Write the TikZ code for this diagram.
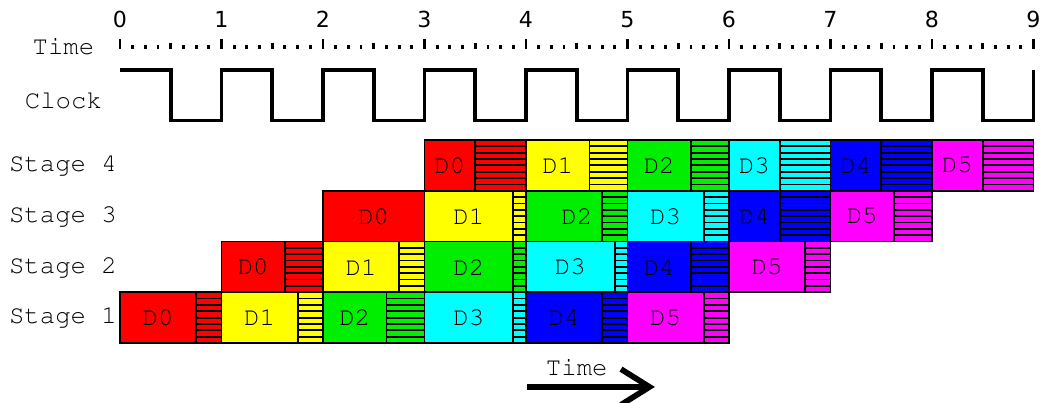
\documentclass[tikz,border=0pt]{standalone}
\usepackage[T1]{fontenc}
\usepackage{fontspec}
\newfontfamily\numfont{DejaVu Sans}
\newcommand\courfont{\fontencoding{T1}\fontfamily{pcr}\selectfont}
\usetikzlibrary{arrows.meta}

\definecolor{pred}{RGB}{255,0,0}
\definecolor{pyellow}{RGB}{255,255,0}
\definecolor{pgreen}{RGB}{0,238,0}
\definecolor{pcyan}{RGB}{0,255,255}
\definecolor{pblue}{RGB}{0,0,255}
\definecolor{pmagenta}{RGB}{255,0,255}

\tikzset{
  txt/.style={font=\courfont\fontsize{7.2}{8}\selectfont, inner sep=0pt},
  num/.style={font=\numfont\fontsize{6.2}{7}\selectfont, inner sep=0pt},
  tick/.style={line width=0.8pt},
  grid/.style={line width=0.5pt}
}

\begin{document}
\begin{tikzpicture}[x=1cm,y=1cm]
  \useasboundingbox (-1.182,-0.591) rectangle (9.113,3.379);
  % time scale
  \foreach \i in {0,...,9} {
    \draw[tick] (\i,2.897) -- (\i,2.995);
    \node[num] (n\i) at (\i,3.187) {\i};
  }
  \foreach \i in {0,...,8} {
    \draw[tick] (\i+0.5,2.897) -- (\i+0.5,2.956);
    \foreach \j in {1,2,3,5,6,7}
      \draw[tick] (\i+\j/8,2.897) -- (\i+\j/8,2.931);
  }
  \node[txt] (time) at (-0.557,2.92) {Time};
  % clock
  \node[txt] (clock) at (-0.557,2.394) {Clock};
  \draw[line width=1pt] (0,2.69) \foreach \i in {0,...,8} {
    -- (\i+0.5,2.69) -- (\i+0.5,2.19) -- (\i+1,2.19) -- (\i+1,2.69) };
  % stages
  \foreach \s in {1,...,4}
    \node[txt,anchor=west] (st\s) at (-1.1,{(\s-1)/2+0.25}) {Stage \s};
  \foreach \s/\t/\m/\c/\n/\lx in {
      1/0/0.75/pred/0/0.375, 1/1/1.75/pyellow/1/1.375, 1/2/2.625/pgreen/2/2.3125,
      1/3/3.875/pcyan/3/3.4375, 1/4/4.75/pblue/4/4.375, 1/5/5.75/pmagenta/5/5.375,
      2/1/1.625/pred/0/1.3125, 2/2/2.75/pyellow/1/2.375, 2/3/3.875/pgreen/2/3.4375,
      2/4/4.875/pcyan/3/4.4375, 2/5/5.625/pblue/4/5.3125, 2/6/6.75/pmagenta/5/6.375,
      3/2/3/pred/0/2.5, 3/3/3.875/pyellow/1/3.4375, 3/4/4.75/pgreen/2/4.5,
      3/5/5.75/pcyan/3/5.375, 3/6/6.5/pblue/4/6.25, 3/7/7.625/pmagenta/5/7.3125,
      4/3/3.5/pred/0/3.25, 4/4/4.625/pyellow/1/4.3125, 4/5/5.625/pgreen/2/5.3125,
      4/6/6.5/pcyan/3/6.25, 4/7/7.5/pblue/4/7.25, 4/8/8.5/pmagenta/5/8.25}
  {
    \pgfmathsetmacro\y{(\s-1)/2}
    \fill[\c] (\t,\y) rectangle (\t+1,\y+0.5);
    \foreach \k in {1,...,7}
      \draw[grid] (\m,\y+\k/16) -- (\t+1,\y+\k/16);
    \draw[grid] (\t,\y) rectangle (\t+1,\y+0.5);
    \draw[grid] (\m,\y) -- (\m,\y+0.5);
    \node[txt] (s\s d\n) at (\lx,\y+0.25) {D\n};
  }
  % time arrow
  \coordinate (ta) at (4.01,-0.433);
  \coordinate (tb) at (5.27,-0.433);
  \draw[line width=1.6pt,-{Straight Barb[length=8pt,width=10pt]}] (ta) -- (tb);
  \node[txt] (tlbl) at (4.5,-0.246) {Time};
\end{tikzpicture}
\end{document}
